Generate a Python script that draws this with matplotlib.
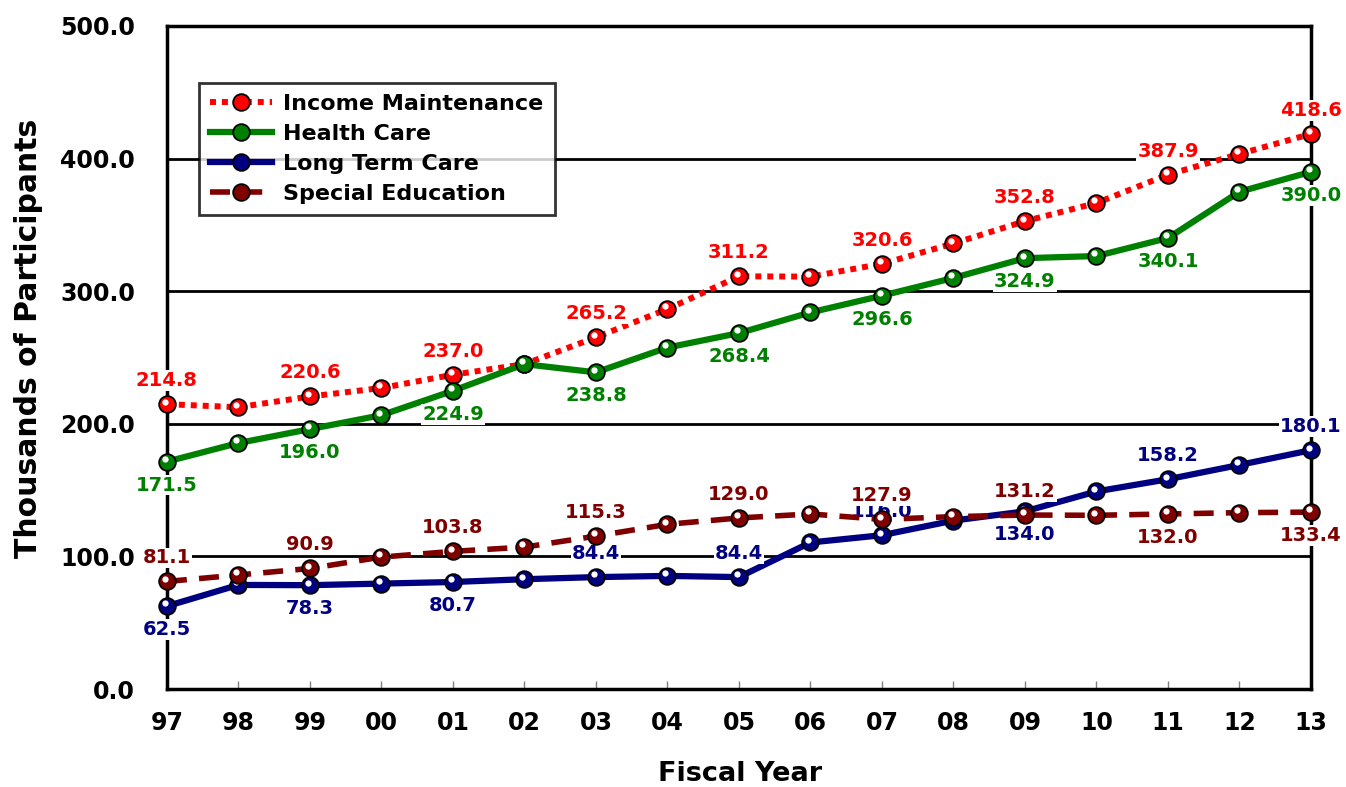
import matplotlib.pyplot as plt
from matplotlib.transforms import offset_copy
from matplotlib.lines import Line2D

plt.rcParams['font.family'] = ['DejaVu Sans']
plt.rcParams['font.weight'] = 'bold'

# data (thousands of participants)
years = ['97', '98', '99', '00', '01', '02', '03', '04', '05', '06', '07', '08', '09', '10', '11', '12', '13']
income = [214.8, 212.5, 220.6, 227.0, 237.0, 245.0, 265.2, 286.5, 311.2, 311.0, 320.6, 336.0, 352.8, 366.5, 387.9, 403.5, 418.6]
health = [171.5, 185.5, 196.0, 206.5, 224.9, 245.0, 238.8, 257.5, 268.4, 284.0, 296.6, 310.0, 324.9, 326.5, 340.1, 375.0, 390.0]
longterm = [62.5, 78.5, 78.3, 79.5, 80.7, 82.8, 84.4, 85.3, 84.4, 110.5, 116.0, 127.0, 134.0, 149.0, 158.2, 169.0, 180.1]
special = [81.1, 86.0, 90.9, 99.5, 103.8, 107.0, 115.3, 124.2, 129.0, 132.0, 127.9, 130.0, 131.2, 131.0, 132.0, 133.0, 133.4]

# label side for every other point: +1 above, -1 below
income_side = [1, 1, 1, 1, 1, 1, 1, 1, 1]
health_side = [-1, -1, -1, -1, -1, -1, -1, -1, -1]
longterm_side = [-1, -1, -1, 1, 1, 1, -1, 1, 1]
special_side = [1, 1, 1, 1, 1, 1, 1, -1, -1]

series = [
    ('Income Maintenance', income, income_side, '#FF0000', (0, (1, 1)), 4.3),
    ('Health Care', health, health_side, '#008000', '-', 4.5),
    ('Long Term Care', longterm, longterm_side, '#000080', '-', 4.5),
    ('Special Education', special, special_side, '#800000', (0, (3.6, 2.2)), 4.0),
]

fig = plt.figure(figsize=(13.46, 7.87), dpi=100)
ax = fig.add_axes([0.124, 0.1245, 0.850, 0.8425])
x = list(range(len(years)))
hl = offset_copy(ax.transData, fig=fig, x=-1.6, y=1.9, units='points')

handles = []
for i, (name, vals, sides, col, ls, lw) in enumerate(series):
    z = 3 + i * 4
    ax.plot(x, vals, color=col, linestyle=ls, linewidth=lw, zorder=z, clip_on=False)
    ax.plot(x, vals, linestyle='none', marker='o', markersize=12, markerfacecolor=col,
            markeredgecolor='black', markeredgewidth=1.3, zorder=z + 1, clip_on=False)
    ax.plot(x, vals, linestyle='none', marker='o', markersize=4.5, markerfacecolor='white',
            markeredgecolor='none', transform=hl, zorder=z + 2, clip_on=False)
    for j, s in zip(x[::2], sides):
        ax.annotate(f'{vals[j]:.1f}', (j, vals[j]), xytext=(0, 17 * s), textcoords='offset points',
                    ha='center', va='center', fontsize=14, fontweight='bold', color=col, zorder=z + 3,
                    bbox=dict(facecolor='white', edgecolor='none', pad=0.5))
    handles.append(Line2D([], [], color=col, linestyle=ls, linewidth=lw, marker='o', markersize=12,
                          markerfacecolor=col, markeredgecolor='black', markeredgewidth=1.3))

ax.set_xlim(0, 16)
ax.set_ylim(0, 500)
ax.set_xticks(x)
ax.set_xticklabels(years)
ax.set_yticks([0, 100, 200, 300, 400, 500])
ax.set_yticklabels([f'{v:.1f}' for v in [0, 100, 200, 300, 400, 500]])
ax.tick_params(axis='x', direction='in', length=6, width=1, color='gray', pad=16, labelsize=17)
ax.tick_params(axis='y', length=0, pad=23, labelsize=17)
for lab in ax.get_xticklabels() + ax.get_yticklabels():
    lab.set_fontweight('bold')
ax.yaxis.grid(True, color='black', linewidth=2)
ax.set_axisbelow(True)
for sp in ax.spines.values():
    sp.set_linewidth(2.5)

ax.set_xlabel('Fiscal Year', fontsize=19.5, fontweight='bold')
ax.set_ylabel('Thousands of Participants', fontsize=21.5, fontweight='bold')
ax.xaxis.set_label_coords(0.501, -0.108)
ax.yaxis.set_label_coords(-0.108, 0.529)

leg = ax.legend(handles, [s[0] for s in series], loc='upper left', bbox_to_anchor=(0.028, 0.914),
                fontsize=16, handlelength=2.8, handletextpad=0.5, labelspacing=0.45,
                frameon=True, fancybox=False, borderpad=0.5, borderaxespad=0)
leg.get_frame().set_edgecolor('black')
leg.get_frame().set_linewidth(2)
leg.set_zorder(30)
for t in leg.get_texts():
    t.set_fontweight('bold')

fig.savefig('out.png', dpi=100)
